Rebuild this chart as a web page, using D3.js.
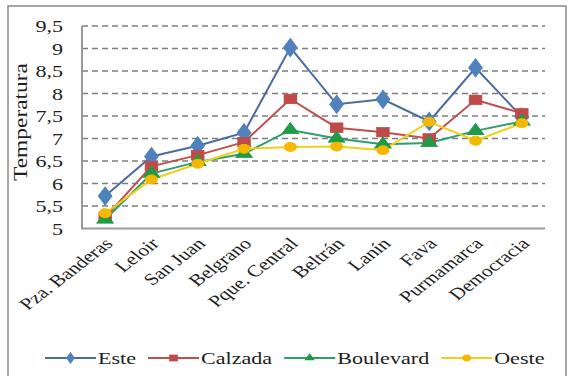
<!DOCTYPE html>
<html>
<head>
<meta charset="utf-8">
<script src="https://cdn.jsdelivr.net/npm/d3@7"></script>
<style>
  html, body { margin: 0; padding: 0; background: #fff; }
  svg { display: block; }
</style>
</head>
<body>
<svg id="chart" width="574" height="376"></svg>
<script>
// Temperature per site, four measurement groups
const categories = ["Pza. Banderas", "Leloir", "San Juan", "Belgrano", "Pque. Central",
                    "Beltrán", "Lanín", "Fava", "Purmamarca", "Democracia"];
const este      = [5.72, 6.60, 6.84, 7.13, 9.02, 7.76, 7.87, 7.38, 8.57, 7.48];
const calzada   = [5.25, 6.38, 6.63, 6.92, 7.88, 7.24, 7.14, 7.00, 7.86, 7.56];
const boulevard = [5.20, 6.22, 6.48, 6.66, 7.19, 7.00, 6.87, 6.90, 7.17, 7.38];
const oeste     = [5.34, 6.09, 6.44, 6.77, 6.81, 6.82, 6.74, 7.37, 6.95, 7.34];
const seriesNames = ["Este", "Calzada", "Boulevard", "Oeste"];
const yTicks = [5, 5.5, 6, 6.5, 7, 7.5, 8, 8.5, 9, 9.5];
const yTitle = "Temperatura";

const series = [
  { name: seriesNames[0], values: este,      line: "#4a6c9e", fill: "#4f81bd", symbol: d3.symbolDiamond,  size: 95, lsize: 40 },
  { name: seriesNames[1], values: calzada,   line: "#c0504d", fill: "#be4b48", symbol: d3.symbolSquare,   size: 90, lsize: 45 },
  { name: seriesNames[2], values: boulevard, line: "#2f9e6a", fill: "#1f9a48", symbol: d3.symbolTriangle, size: 70, lsize: 28 },
  { name: seriesNames[3], values: oeste,     line: "#f2cf1a", fill: "#f5b800", symbol: d3.symbolCircle,   size: 65, lsize: 40 }
];

const FONT = '"Liberation Serif"';
const INK = "#1e1e1e";
const SX = 1.3; // horizontal widening of glyphs and markers
const svg = d3.select("#chart");
const plot = { left: 82, right: 545, top: 26, bottom: 228.5 };

// outer chart frame
svg.append("rect")
  .attr("x", 8).attr("y", 6).attr("width", 558).attr("height", 380)
  .attr("fill", "none").attr("stroke", "#8a8a8a").attr("stroke-width", 1.5);

const x = d3.scalePoint().domain(categories).range([plot.left, plot.right]).padding(0.5);
const y = d3.scaleLinear().domain([5, 9.5]).range([plot.bottom, plot.top]);

// dashed horizontal gridlines
svg.append("g").selectAll("line").data(yTicks.filter(t => t > 5)).join("line")
  .attr("x1", plot.left).attr("x2", plot.right)
  .attr("y1", d => y(d)).attr("y2", d => y(d))
  .attr("stroke", "#7d7d7d").attr("stroke-width", 1.4)
  .attr("stroke-dasharray", "6,4");

// axis lines
svg.append("line").attr("x1", plot.left).attr("x2", plot.left)
  .attr("y1", plot.top).attr("y2", plot.bottom + 1)
  .attr("stroke", "#9a9a9a").attr("stroke-width", 2);
svg.append("line").attr("x1", plot.left).attr("x2", plot.right)
  .attr("y1", plot.bottom).attr("y2", plot.bottom)
  .attr("stroke", "#9a9a9a").attr("stroke-width", 2);

// y tick labels
const yAxis = d3.axisLeft(y).tickValues(yTicks).tickSize(0)
  .tickFormat(d => String(d).replace(".", ","));
const yg = svg.append("g").attr("transform", `translate(${plot.left},0)`).call(yAxis);
yg.select(".domain").remove();
yg.selectAll(".tick text")
  .attr("x", 0).attr("dy", "0.35em")
  .attr("text-anchor", "end")
  .attr("transform", `translate(-19,0) scale(${SX},1)`)
  .style("font-family", FONT).style("font-size", "17px").style("fill", INK);

// y title
svg.append("text")
  .attr("transform", `translate(27,122) rotate(-90)`)
  .attr("text-anchor", "middle")
  .attr("textLength", 118)
  .attr("lengthAdjust", "spacingAndGlyphs")
  .style("font-family", FONT).style("font-size", "18px").style("fill", INK)
  .text(yTitle);

// x category labels (slanted)
const xAxis = d3.axisBottom(x).tickSize(0);
const xg = svg.append("g").attr("transform", `translate(0,${plot.bottom})`).call(xAxis);
xg.select(".domain").remove();
xg.selectAll(".tick text")
  .attr("x", 0).attr("y", 0).attr("dy", "0.35em")
  .attr("text-anchor", "end")
  .attr("transform", `translate(3,12) scale(${SX},1) rotate(-45)`)
  .style("font-family", FONT).style("font-size", "16.5px").style("fill", INK);

// series lines and markers
const line = d3.line().x((d, i) => x(categories[i])).y(d => y(d));
series.forEach(s => {
  svg.append("path").datum(s.values)
    .attr("d", line).attr("fill", "none")
    .attr("stroke", s.line).attr("stroke-width", 2);
});
series.forEach(s => {
  const sym = d3.symbol().type(s.symbol).size(s.size);
  svg.append("g").selectAll("path").data(s.values).join("path")
    .attr("d", sym)
    .attr("transform", (d, i) => `translate(${x(categories[i])},${y(d)}) scale(${SX},1)`)
    .attr("fill", s.fill).attr("stroke", s.fill).attr("stroke-width", 0.8);
});

// legend
const legend = svg.append("g").attr("transform", "translate(45,358)");
let lx = 0;
series.forEach(s => {
  const g = legend.append("g").attr("transform", `translate(${lx},0)`);
  g.append("line").attr("x1", 0).attr("x2", 51).attr("y1", 0).attr("y2", 0)
    .attr("stroke", s.line).attr("stroke-width", 2);
  g.append("path").attr("d", d3.symbol().type(s.symbol).size(s.lsize))
    .attr("transform", `translate(25.5,0) scale(${SX},1)`)
    .attr("fill", s.fill);
  const t = g.append("text").attr("x", 0).attr("dy", "0.35em")
    .attr("transform", `translate(53,0) scale(${SX},1)`)
    .style("font-family", FONT).style("font-size", "17px").style("fill", INK)
    .text(s.name);
  const w = t.node().getComputedTextLength() * SX;
  lx += 53 + w + 12;
});
</script>
</body>
</html>
